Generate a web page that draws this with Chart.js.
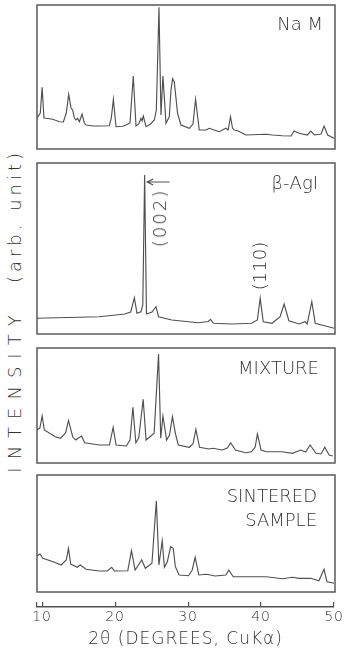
<!DOCTYPE html>
<html><head><meta charset="utf-8">
<script src="https://cdn.jsdelivr.net/npm/chart.js@4.4.0/dist/chart.umd.min.js"></script>
<style>
html,body{margin:0;padding:0;background:#fff;}
body{width:345px;height:653px;position:relative;overflow:hidden;font-family:"DejaVu Sans",sans-serif;font-weight:200;color:#333;}
canvas{position:absolute;}
.lbl{position:absolute;font-size:18px;white-space:nowrap;line-height:1;text-align:right;}
.rot{position:absolute;white-space:nowrap;line-height:1;font-size:18px;transform:translate(-50%,-50%) rotate(-90deg);}
</style></head><body>
<canvas id="p1" width="302" height="148" style="left:35px;top:3px"></canvas>
<canvas id="p2" width="302" height="175" style="left:35px;top:161px"></canvas>
<canvas id="p3" width="302" height="119" style="left:35px;top:346px"></canvas>
<canvas id="p4" width="302" height="121" style="left:35px;top:473px"></canvas>
<canvas id="ax" width="345" height="63" style="left:0px;top:590px"></canvas>

<div class="lbl" style="right:22px;top:15px">Na M</div>
<div class="lbl" style="right:27px;top:174px">β-AgI</div>
<div class="lbl" style="right:26px;top:359px">MIXTURE</div>
<div class="lbl" style="right:28px;top:484px;line-height:24px">SINTERED<br>SAMPLE</div>
<div class="rot" style="left:160px;top:218px;letter-spacing:2px">(002)</div>
<div class="rot" style="left:260px;top:266px">(110)</div>
<div class="rot" style="left:15px;top:390px;letter-spacing:8px">INTENSITY</div>
<div class="rot" style="left:15px;top:216px;letter-spacing:4px">(arb. unit)</div>

<script>
// ---- data (2θ in degrees, intensity in arbitrary units) ----
const naM_2theta = [9.31,9.75,10.0,10.25,10.54,11.45,12.36,12.9,13.3,13.63,13.95,14.17,14.4,14.63,14.85,15.09,15.45,15.77,16.0,17.0,17.82,19.18,19.45,19.73,20.0,20.1,21.0,21.46,22.0,22.45,22.82,23.2,23.5,23.65,23.82,24.19,24.8,25.32,25.6,25.96,26.23,26.5,26.92,27.37,27.6,27.82,28.05,28.5,28.96,30.1,30.6,30.96,31.46,32.4,32.82,33.5,34.19,35.1,35.4,35.73,36.0,36.23,36.7,37.83,40.56,41.5,42.82,44.0,44.42,45.1,46.2,46.7,47.2,48.1,48.51,49.0,49.88];
const naM_I      = [31,36,61.7,31,30.7,29.7,27.3,27,36,54.7,41,39,31,29,30.7,27.3,34.7,26,24,23,23,23.3,31,49.7,29,22.3,22.7,24,26,73,23,25,30.7,28,33,22.3,25,29,39,141.7,34,73,25.7,32.3,59,70.3,67,35.7,24,20.7,25,49.7,19,19,20.7,19,17.3,20.7,19,32.3,21,19,18.3,14,14.7,14,13.3,13,18,15.7,14,18,14,15,23,14,10.7];

const agi_2theta = [9.31,12,15,17.8,21.3,22.1,22.6,22.95,23.5,23.75,24.0,24.25,25.0,25.55,25.9,27.7,31.3,32.7,33.0,33.4,35.9,38.6,39.4,39.78,40.2,41.4,42.5,43.05,43.7,45.1,45.9,46.2,46.83,47.3,48.7,49.88];
const agi_I      = [15.7,16.3,16.7,17.3,20,22,36.3,20.7,22.3,29,159,20,22,27.3,17.3,14,11.3,12.5,14.7,10.7,10,10.7,14,35.7,12.3,10.7,17.3,30,13.3,10,12.3,10,32.3,10.7,8,5.7];

const mix_2theta = [9.31,9.7,10.0,10.3,11.8,12.5,13.2,13.6,14.2,14.6,14.9,15.4,15.8,17.8,19.2,19.7,20.1,21.5,22.0,22.4,22.8,23.2,23.8,24.2,25.3,25.9,26.2,26.5,27.0,27.4,27.8,28.2,28.6,30.1,30.6,31.0,31.5,32.8,33.3,34.6,35.3,35.75,36.4,37.8,38.6,39.1,39.4,39.9,40.6,42.8,44.2,45.3,46.0,46.6,47.4,48.1,48.6,49.2,49.7];
const mix_I      = [33,35,47,33,26.3,24.7,30,42.3,25.7,23,24.7,27,20.3,18,18,35.7,18,17,23,55.7,20.3,25.3,63.7,23,29.7,109,24.7,47,23,28,46.3,29.7,18,15.7,19,33.7,15.7,14,14.7,13,15,20.3,13,10.3,11.3,16,29,13,11.3,11.3,9.7,13,11,18,9.7,9,15.7,8,7];

const sin_2theta = [9.31,9.7,10.1,11.5,12.6,13.3,13.6,13.9,14.8,15.2,16.0,17.8,18.9,19.5,19.9,21.7,22.2,22.7,23.6,24.1,25.0,25.6,25.95,26.4,26.7,27.1,27.55,27.9,28.2,28.7,30.0,30.5,30.9,31.4,32.5,33.6,35.1,35.5,36.1,38.6,40.6,42.8,44.2,45.1,46.7,47.8,48.5,48.9,49.9];
const sin_I      = [36,38,33.7,30.3,27,32,43.7,28,24.7,27,22.7,21,21,24.7,21,21.3,41.3,22,32,23.7,28.7,91.3,27,51.3,24.7,30.3,45.3,43.7,25.3,17,16.3,22,34.7,17,17.7,16,17,22,15.3,15.3,15.3,13.3,14.7,13.7,13.7,11.3,22.7,10.3,8.7];

const axisTicks = [9.3,10,20,30,40,50];

// ---- styles ----
const X_MIN = 9.3, X_MAX = 50;
const LINE = '#505050';
const FRAME = '#5a5a5a';
const PAD = 2;
const FONT = "'DejaVu Sans'";

const frame = {
  id:'frame',
  afterDraw(chart){
    const a = chart.chartArea, c = chart.ctx;
    c.save(); c.strokeStyle = FRAME; c.lineWidth = 1.5;
    c.strokeRect(a.left, a.top, a.right - a.left, a.bottom - a.top);
    c.restore();
  }
};

const arrow002 = {x0: 24.35, x1: 27.4, y: 152};
const arrowPlugin = {
  id:'arrow002',
  afterDatasetsDraw(chart){
    const xs = chart.scales.x, ys = chart.scales.y, c = chart.ctx;
    const x0 = xs.getPixelForValue(arrow002.x0), x1 = xs.getPixelForValue(arrow002.x1), y = ys.getPixelForValue(arrow002.y);
    c.save(); c.strokeStyle = LINE; c.lineWidth = 1.2;
    c.beginPath(); c.moveTo(x1, y); c.lineTo(x0, y);
    c.moveTo(x0 + 6, y - 3); c.lineTo(x0, y); c.lineTo(x0 + 6, y + 3);
    c.stroke(); c.restore();
  }
};

const spacing = {
  id:'spacing',
  beforeDraw(chart){ chart.ctx.letterSpacing = '1px'; }
};

function panel(id, xs, ys, ymax, extra){
  return new Chart(document.getElementById(id), {
    type:'line',
    data:{datasets:[{data: xs.map((x,i)=>({x:x, y:ys[i]})), borderColor:LINE, borderWidth:1.15, pointRadius:0, tension:0, fill:false}]},
    options:{responsive:false, animation:false, devicePixelRatio:1, events:[],
      layout:{padding:PAD},
      plugins:{legend:{display:false}, tooltip:{enabled:false}},
      scales:{x:{type:'linear', min:X_MIN, max:X_MAX, display:false}, y:{min:0, max:ymax, display:false}}},
    plugins:[frame].concat(extra || [])
  });
}

panel('p1', naM_2theta, naM_I, 144);
panel('p2', agi_2theta, agi_I, 171, [arrowPlugin]);
panel('p3', mix_2theta, mix_I, 115);
panel('p4', sin_2theta, sin_I, 117);

new Chart(document.getElementById('ax'), {
  type:'line',
  data:{datasets:[]},
  options:{responsive:false, animation:false, devicePixelRatio:1, events:[],
    layout:{padding:{left:37, right:9, top:12, bottom:0}},
    plugins:{legend:{display:false}, tooltip:{enabled:false}},
    scales:{
      y:{display:false, min:0, max:1},
      x:{type:'linear', position:'bottom', min:X_MIN, max:X_MAX,
        afterBuildTicks: s => { s.ticks = axisTicks.map(v => ({value:v})); },
        afterFit: s => { s.height = 46; },
        border:{display:true, color:LINE, width:1.5},
        grid:{display:true, drawOnChartArea:true, drawTicks:false, color:LINE, lineWidth:1.2},
        ticks:{autoSkip:false, maxRotation:0, padding:2, color:'#333', font:{family:FONT, size:14, weight:200},
          callback: v => (v % 10 === 0 ? String(v) : '')},
        title:{display:true, text:'2θ (DEGREES, CuKα)', color:'#333', font:{family:FONT, size:17, weight:200}, padding:{top:0, bottom:3}}
      }
    }
  },
  plugins:[spacing]
});
</script>
</body></html>
